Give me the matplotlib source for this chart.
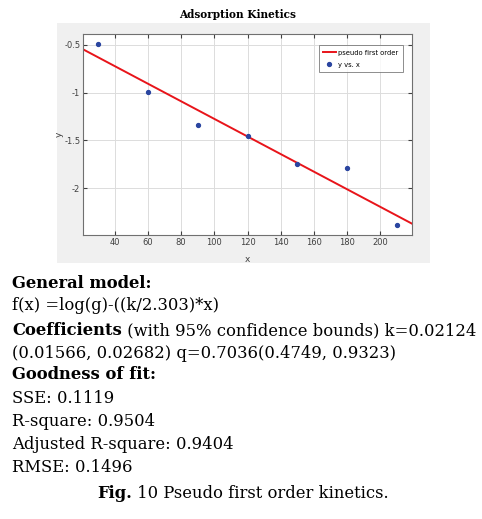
import numpy as np
import matplotlib
matplotlib.use("Agg")
import matplotlib.pyplot as plt
from matplotlib.patches import Rectangle

# data
time_x = [30, 60, 90, 120, 150, 180, 210]
log_y = [-0.486, -0.99, -1.339, -1.454, -1.744, -1.79, -2.39]

# fitted coefficients (from the text under the plot)
k = 0.02124
q = 0.7036

xticks = [40, 60, 80, 100, 120, 140, 160, 180, 200]
yticks = [-0.5, -1, -1.5, -2]
ytick_labels = ["-0.5", "-1", "-1.5", "-2"]

W, H = 482, 519
fig = plt.figure(figsize=(W / 100, H / 100), dpi=100)
narrow = ["Liberation Sans Narrow", "DejaVu Sans"]

def fx(px):
    return px / W

def fy(py):
    return 1 - py / H

# grey matlab window background
fig.patches.append(Rectangle((fx(57), fy(263)), fx(430) - fx(57), fy(23) - fy(263),
                             transform=fig.transFigure, facecolor="#f0f0f0",
                             edgecolor="none", zorder=0))

ax = fig.add_axes([fx(83), fy(235), fx(412) - fx(83), fy(34) - fy(235)])
ax.set_zorder(2)
ax.set_facecolor("white")

xs = np.linspace(21, 219, 50)
ax.plot(xs, np.log(q) - (k / 2.303) * xs, color="#e8141a", lw=1.4, label="pseudo first order")
ax.plot(time_x, log_y, "o", color="#2a45a0", ms=2.8, label="y vs. x", zorder=3)

ax.set_xlim(21, 219)
ax.set_ylim(-2.49, -0.385)
ax.set_xticks(xticks)
ax.set_yticks(yticks)
ax.set_yticklabels(ytick_labels)
ax.grid(True, color="#dcdcdc", lw=0.7)
ax.tick_params(direction="in", length=3, labelsize=6, colors="#404040",
               top=True, right=True, pad=2)
for lab in ax.get_xticklabels() + ax.get_yticklabels():
    lab.set_family(narrow)
for s in ax.spines.values():
    s.set_color("#707070")
    s.set_linewidth(0.8)

ax.set_xlabel("x", fontsize=6.5, color="#404040", labelpad=6, family=narrow)
ax.set_ylabel("y", fontsize=6.5, color="#404040", labelpad=0, family=narrow)

leg = ax.legend(loc="upper right", frameon=True, fancybox=False,
                edgecolor="#707070", handlelength=1.8, handletextpad=0.4,
                borderpad=0.6, labelspacing=0.9, prop={"family": narrow, "size": 4.9},
                bbox_to_anchor=(0.982, 0.96))
leg.get_frame().set_linewidth(0.7)

fig.text(fx(238), fy(15), "Adsorption Kinetics", ha="center", va="center",
         family="DejaVu Serif", weight="bold", fontsize=7.6)

serif = "DejaVu Serif"
fs = 12
lines = [
    (288, [("General model:", "bold")]),
    (310, [("f(x) =log(g)-((k/2.303)*x)", "normal")]),
    (335, [("Coefficients", "bold"), (" (with 95% confidence bounds) k=0.02124", "normal")]),
    (358, [("(0.01566, 0.02682) q=0.7036(0.4749, 0.9323)", "normal")]),
    (379, [("Goodness of fit:", "bold")]),
    (403, [("SSE: 0.1119", "normal")]),
    (426, [("R-square: 0.9504", "normal")]),
    (449, [("Adjusted R-square: 0.9404", "normal")]),
    (472, [("RMSE: 0.1496", "normal")]),
]
fig.canvas.draw()
r = fig.canvas.get_renderer()

# pick a font size so the longest line spans the same width as in the source
probe = [fig.text(0, 0, "Coefficients", family=serif, weight="bold", fontsize=fs),
         fig.text(0, 0, " (with 95% confidence bounds) k=0.02124", family=serif, fontsize=fs)]
pw = sum(p.get_window_extent(renderer=r).width for p in probe)
for p in probe:
    p.remove()
fs = fs * 463 / pw

for py, parts in lines:
    x0 = fx(12)
    for txt, w in parts:
        t = fig.text(x0, fy(py), txt, ha="left", va="baseline", family=serif,
                     weight=w, fontsize=fs)
        bb = t.get_window_extent(renderer=r)
        x0 += bb.width / W

# caption
t1 = fig.text(0, fy(498), "Fig.", ha="left", va="baseline", family=serif, weight="bold", fontsize=fs)
t2 = fig.text(0, fy(498), " 10 Pseudo first order kinetics.", ha="left", va="baseline",
              family=serif, fontsize=fs)
w1 = t1.get_window_extent(renderer=r).width
w2 = t2.get_window_extent(renderer=r).width
start = 243 - (w1 + w2) / 2
t1.set_x(fx(start))
t2.set_x(fx(start + w1))

fig.savefig("out.png", dpi=100)
